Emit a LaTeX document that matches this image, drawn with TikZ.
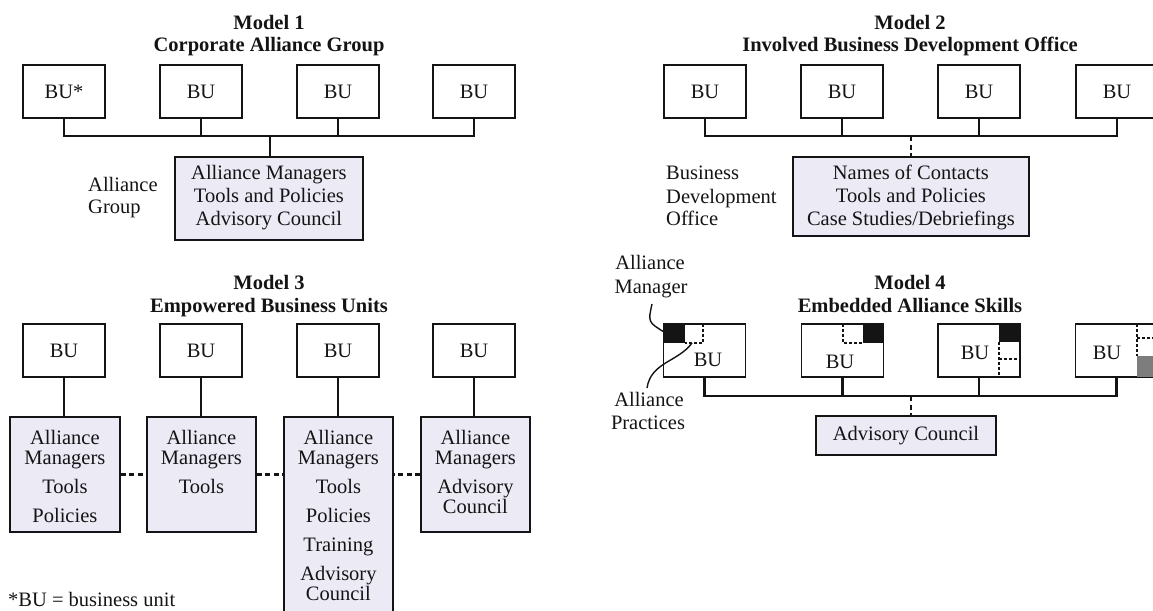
\documentclass[tikz,border=0pt]{standalone}
\usepackage{fontspec}
\setmainfont{Liberation Serif}
\usetikzlibrary{calc}
\definecolor{boxfill}{RGB}{236,234,244}
\definecolor{ink}{RGB}{20,20,20}
\definecolor{mgrgray}{RGB}{125,125,125}
% fixed-height cell: height, width, space above first line, lines
\newcommand\cellbox[4]{\parbox[c][#1][t]{#2}{\centering\vspace*{#3}\strut #4\par}}
\begin{document}
\begin{tikzpicture}[x=1pt,y=-1pt,
  every node/.style={inner sep=0pt, text=ink},
  body/.style={font=\fontsize{20.5}{23}\selectfont},
  tight/.style={font=\fontsize{20.5}{20}\selectfont},
  title/.style={font=\bfseries\fontsize{20.5}{23}\selectfont, anchor=base},
  bu/.style={draw=ink, line width=1.3pt, minimum width=82pt, minimum height=53pt, body},
  shaded/.style={draw=ink, line width=1.8pt, fill=boxfill},
  link/.style={draw=ink, line width=2.2pt},
  dlink/.style={link, dash pattern=on 5pt off 3.5pt},
  sqdash/.style={draw=ink, line width=1.2pt, dash pattern=on 3pt off 2pt},
  pointer/.style={draw=ink, line width=1.4pt},
  txt/.style={body, anchor=base},
  txtw/.style={body, anchor=base west}]
\useasboundingbox (0,0) rectangle (1153,610);
\clip (0,0) rectangle (1153,610);

% ---------------- Model 1 ----------------
\node[title] (m1t) at (269,29.5) {Model 1};
\node[title] (m1s) at (269,52) {Corporate Alliance Group};
\node[bu] (m1b1) at (64,91.5) {BU*};
\node[bu] (m1b2) at (201,91.5) {BU};
\node[bu] (m1b3) at (338,91.5) {BU};
\node[bu] (m1b4) at (474,91.5) {BU};
\node[shaded, body, anchor=north west] (m1g) at (174,156)
  {\cellbox{83pt}{188pt}{6.9pt}{Alliance Managers\\Tools and Policies\\Advisory Council}};
\node[txtw] (m1l1) at (88,191) {Alliance};
\node[txtw] (m1l2) at (88,213) {Group};
\coordinate (m1j) at (270,136);
\draw[link] (m1b1.south) |- (m1j);
\draw[link] (m1b4.south) |- (m1j);
\draw[link] (m1b2.south) -- (m1b2.south |- m1j);
\draw[link] (m1b3.south) -- (m1b3.south |- m1j);
\draw[link] (m1j) -- (m1j |- m1g.north);

% ---------------- Model 2 ----------------
\node[title] (m2t) at (910,29.5) {Model 2};
\node[title] (m2s) at (910,52) {Involved Business Development Office};
\node[bu] (m2b1) at (705,91.5) {BU};
\node[bu] (m2b2) at (842,91.5) {BU};
\node[bu] (m2b3) at (979,91.5) {BU};
\node[bu] (m2b4) at (1117,91.5) {BU};
\node[shaded, body, anchor=north west] (m2o) at (792,156)
  {\cellbox{79pt}{236pt}{6.9pt}{Names of Contacts\\Tools and Policies\\Case Studies/Debriefings}};
\node[txtw] (m2l1) at (666,179) {Business};
\node[txtw] (m2l2) at (666,203) {Development};
\node[txtw] (m2l3) at (666,225) {Office};
\coordinate (m2j) at (911,136);
\draw[link] (m2b1.south) |- (m2j);
\draw[link] (m2b4.south) |- (m2j);
\draw[link] (m2b2.south) -- (m2b2.south |- m2j);
\draw[link] (m2b3.south) -- (m2b3.south |- m2j);
\draw[dlink] (m2j) -- (m2j |- m2o.north);

% ---------------- Model 3 ----------------
\node[title] (m3t) at (269,289) {Model 3};
\node[title] (m3s) at (269,312) {Empowered Business Units};
\node[bu] (m3b1) at (64,350.5) {BU};
\node[bu] (m3b2) at (201,350.5) {BU};
\node[bu] (m3b3) at (338,350.5) {BU};
\node[bu] (m3b4) at (474,350.5) {BU};
\node[shaded, tight, anchor=north west] (m3s1) at (9,416)
  {\cellbox{115pt}{110pt}{13pt}{Alliance\\Managers\\[9pt]Tools\\[9pt]Policies}};
\node[shaded, tight, anchor=north west] (m3s2) at (146,416)
  {\cellbox{115pt}{109pt}{13pt}{Alliance\\Managers\\[9pt]Tools}};
\node[shaded, tight, anchor=north west] (m3s3) at (283,416)
  {\cellbox{205pt}{109pt}{13pt}{Alliance\\Managers\\[9pt]Tools\\[9pt]Policies\\[9pt]Training\\[9pt]Advisory\\Council}};
\node[shaded, tight, anchor=north west] (m3s4) at (420,416)
  {\cellbox{115pt}{109pt}{13pt}{Alliance\\Managers\\[9pt]Advisory\\Council}};
\foreach \i in {1,2,3,4}
  \draw[link] (m3b\i.south) -- (m3b\i.south |- m3s\i.north);
\draw[dlink] (m3s1.east) -- (m3s1.east -| m3s2.west);
\draw[dlink] (m3s2.east) -- (m3s2.east -| m3s3.west);
\draw[dlink] (m3s4.west) -- (m3s4.west -| m3s3.east);
\node[txtw] (note) at (8,606.5) {*BU = business unit};

% ---------------- Model 4 ----------------
\node[title] (m4t) at (910,289) {Model 4};
\node[title] (m4s) at (910,312) {Embedded Alliance Skills};
\node[bu] (m4b1) at (704.5,350.5) {};
\node[bu] (m4b2) at (842.5,350.5) {};
\node[bu] (m4b3) at (979,350.5) {};
\node[bu] (m4b4) at (1116.5,350.5) {};
\node[txt] (m4u1) at (708,366.5) {BU};
\node[txt] (m4u2) at (840,368.5) {BU};
\node[txt] (m4u3) at (975,359.5) {BU};
\node[txt] (m4u4) at (1107,359.5) {BU};
% alliance manager (solid) and alliance practices (dashed) corners
\fill[ink] (663.5,324) rectangle (685,343);
\draw[sqdash] (703,324) -- (703,343) -- (685,343);
\fill[ink] (863,324) rectangle (883.5,343);
\draw[sqdash] (843,324) -- (843,343) -- (863,343);
\fill[ink] (999,324) rectangle (1020,342);
\draw[sqdash] (999,342) -- (999,377);
\draw[sqdash] (999,359) -- (1020,359);
\draw[sqdash] (1137,324) -- (1137,356);
\draw[sqdash] (1137,338) -- (1157,338);
\fill[mgrgray] (1137,356) rectangle (1157.5,377);
\node[shaded, body, minimum width=180pt, minimum height=39pt] (m4c) at (906,435.5) {Advisory Council};
\coordinate (m4j) at (911,396);
\draw[link] (m4b1.south) |- (m4j);
\draw[link] (m4b4.south) |- (m4j);
\draw[link] (m4b2.south) -- (m4b2.south |- m4j);
\draw[link] (m4b3.south) -- (m4b3.south |- m4j);
\draw[dlink] (m4j) -- (m4j |- m4c.north);
% callouts
\node[txt] (m4ma) at (650,269.5) {Alliance};
\node[txt] (m4mb) at (651,293.5) {Manager};
\node[txt] (m4pa) at (649,406.5) {Alliance};
\node[txt] (m4pb) at (648,429.5) {Practices};
\coordinate (mgrfrom) at (652,304);
\coordinate (mgrto) at (664,332);
\coordinate (prfrom) at (647,388);
\coordinate (prto) at (692,343);
\draw[pointer] (mgrfrom) .. controls (648,322) .. (mgrto);
\draw[pointer] (prfrom) .. controls (651,362) and (678,362) .. (prto);
\end{tikzpicture}
\end{document}
